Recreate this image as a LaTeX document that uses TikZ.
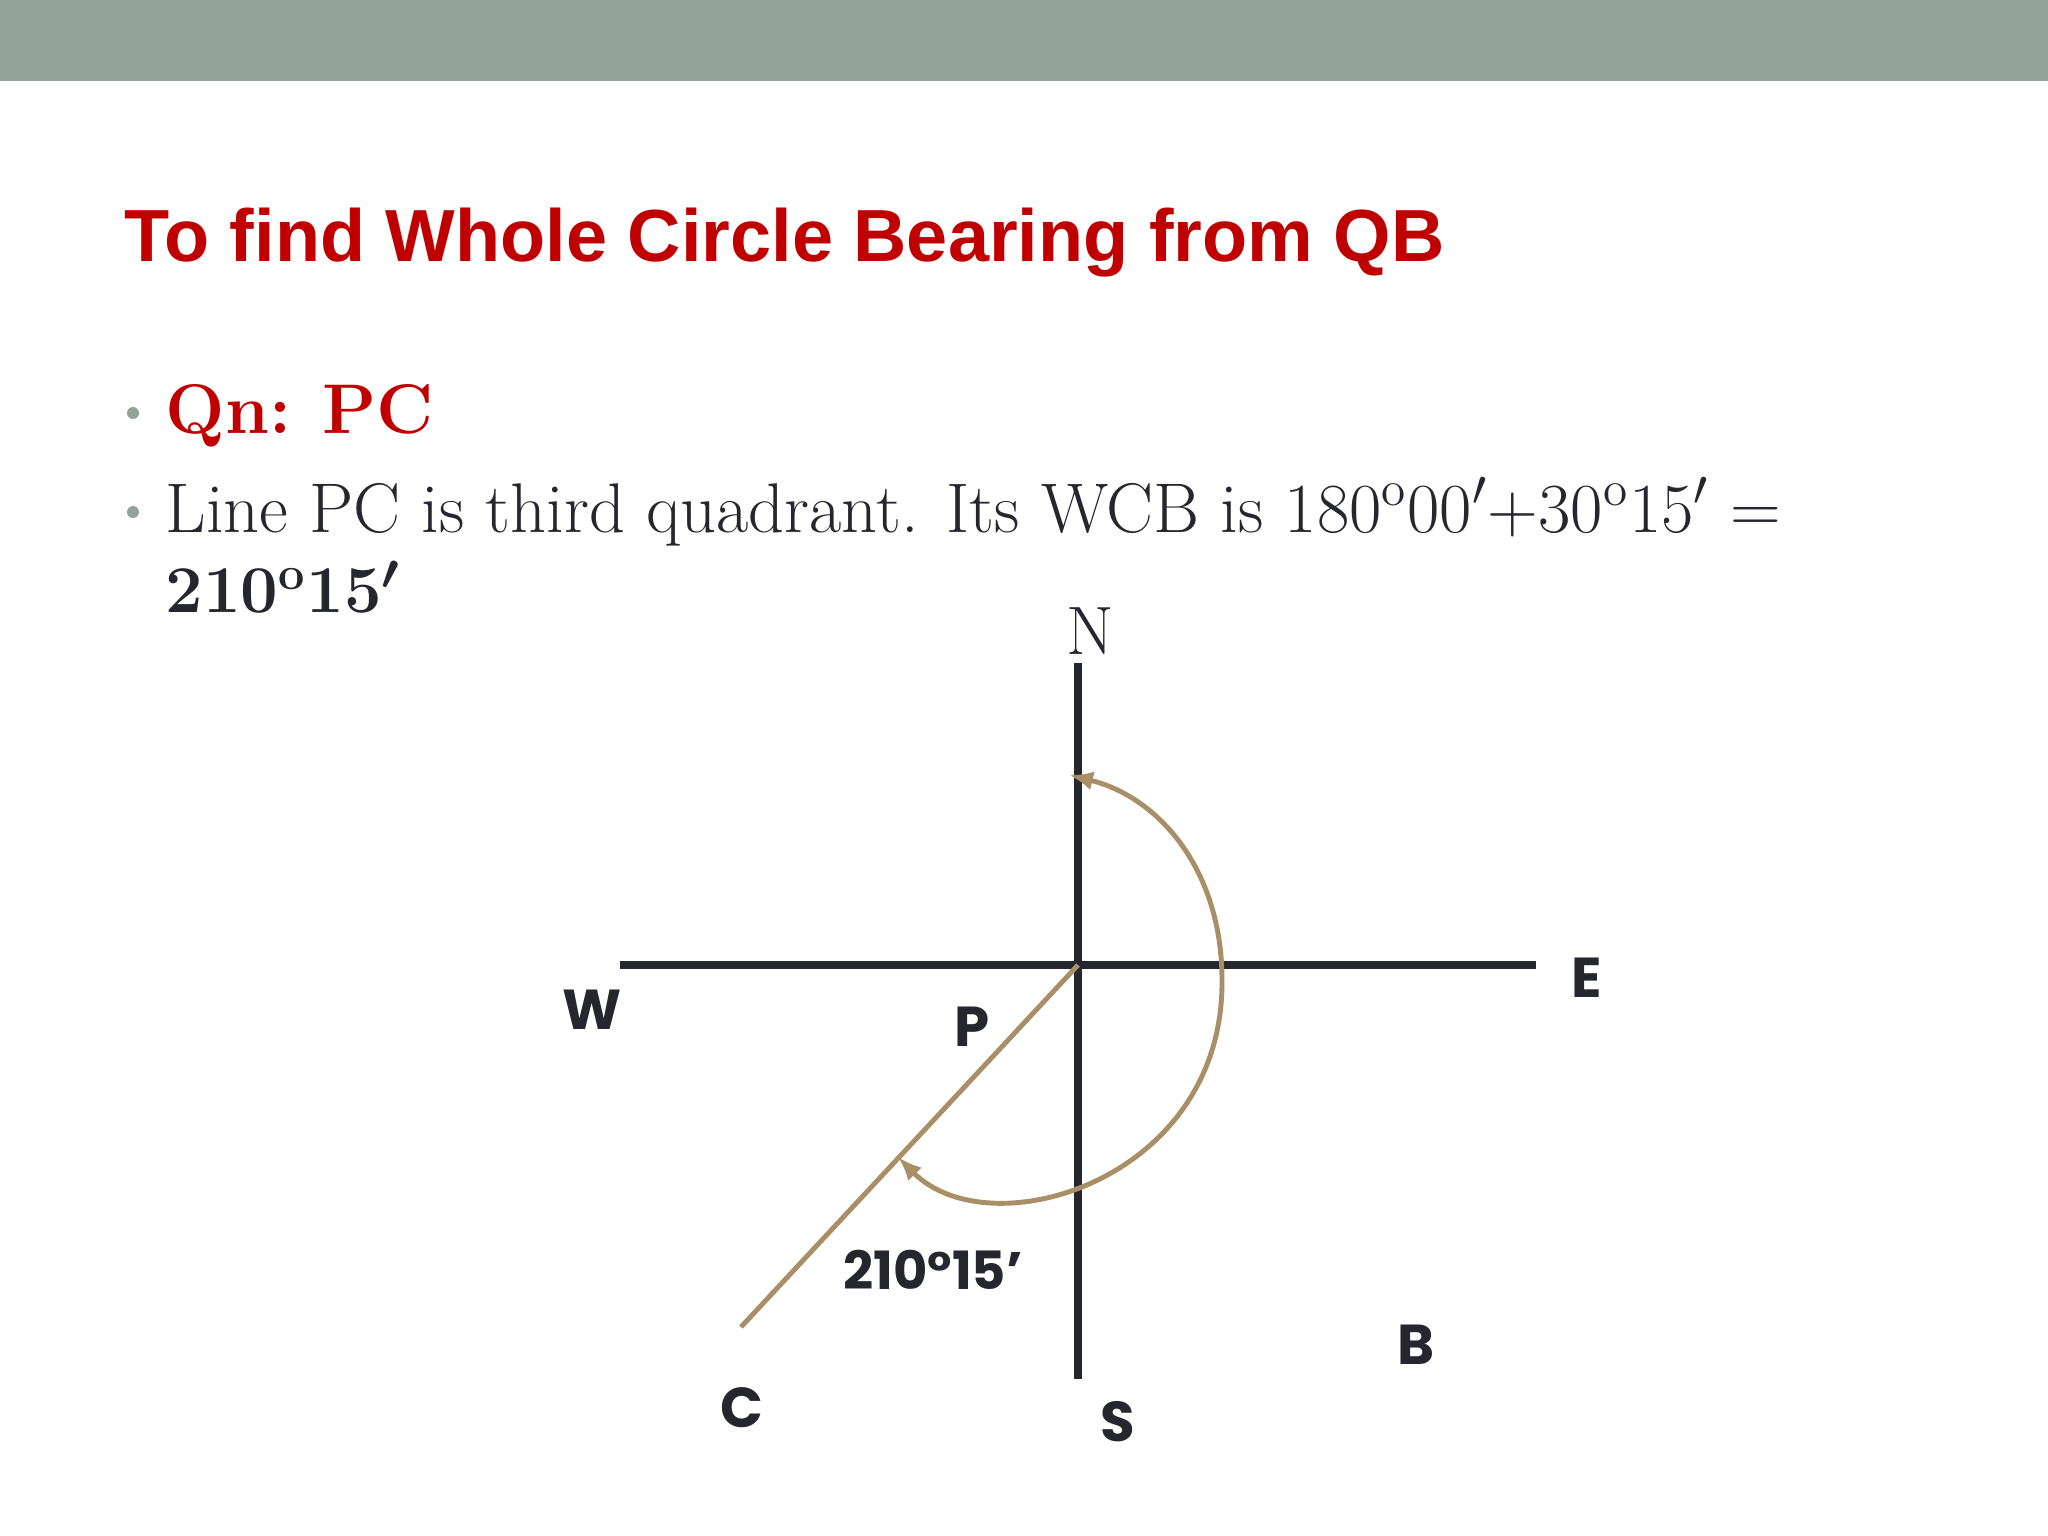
\documentclass[tikz,border=0pt]{standalone}
\usepackage{amsmath,amssymb}
\usepackage{fontspec}
\usetikzlibrary{arrows.meta}

\newfontfamily\titlefont{Liberation Sans}
\newfontfamily\lblfont{Poppins}
\definecolor{bandgray}{HTML}{93A39A}
\definecolor{slidered}{HTML}{C00000}
\definecolor{inkdark}{HTML}{26262E}
\definecolor{tanline}{HTML}{A88F68}

\begin{document}
\begin{tikzpicture}[x=0.01cm,y=-0.01cm,
  axis/.style={draw=inkdark, line width=2pt},
  bearing/.style={draw=tanline, line width=1.4pt},
  dirlbl/.style={inner sep=0pt, text=inkdark, font=\lblfont\bfseries\fontsize{16pt}{19pt}\selectfont},
  bodytxt/.style={anchor=base west, inner sep=0pt, text=inkdark, font=\fontsize{20pt}{24pt}\selectfont}]

% page and grey band on top
\useasboundingbox (0,0) rectangle (2048,1536);
\fill[bandgray] (0,0) rectangle (2048,81);

% title
\node[anchor=base west, inner sep=0pt, text=slidered, font=\titlefont\bfseries\fontsize{21pt}{25pt}\selectfont] (title) at (124,261) {To find Whole Circle Bearing from QB};

% bullet points
\fill[bandgray] (133,413) circle (0.06cm);
\fill[bandgray] (133,512) circle (0.06cm);
\node[bodytxt, text=slidered] (qn) at (165,433) {\textbf{Qn:\hspace{0.45em}PC}};
\node[bodytxt] (line) at (165,532) {Line PC is third quadrant. Its WCB is 180\textsuperscript{o}00$'$+30\textsuperscript{o}15$'$ =};
\node[bodytxt, font=\fontsize{19pt}{23pt}\selectfont] (wcb) at (165,612) {\textbf{210\textsuperscript{o}15{\boldmath$'$}}};

% compass lines
\coordinate (P) at (1078,965);
\coordinate (nEnd) at (1078,663);
\coordinate (sEnd) at (1078,1379);
\coordinate (wEnd) at (620,965);
\coordinate (eEnd) at (1536,965);
\coordinate (cEnd) at (741,1327);
\draw[axis] (nEnd) -- (sEnd);
\draw[axis] (wEnd) -- (eEnd);

% line PC and the bearing arc
\draw[bearing] (P) -- (cEnd);
\coordinate (tipN) at (1069,775);
\coordinate (rgt) at (1222,980);
\coordinate (tipC) at (898,1157);
\draw[bearing, {Latex[length=0.24cm,width=0.19cm]}-{Latex[length=0.24cm,width=0.19cm]}] (tipN) .. controls (1159,797) and (1222,870) .. (rgt) .. controls (1224,1180) and (990,1250) .. (tipC);

% labels
\node[inner sep=0pt, text=inkdark, font=\fontsize{19.5pt}{23pt}\selectfont] (N) at (1090,631) {N};
\node[dirlbl] (E) at (1587,978) {E};
\node[dirlbl] (W) at (592,1010) {W};
\node[dirlbl] (Plbl) at (972,1027) {P};
\node[dirlbl, font=\lblfont\bfseries\fontsize{15pt}{18pt}\selectfont] (angle) at (933,1270) {210°15’};
\node[dirlbl] (C) at (742,1408) {C};
\node[dirlbl] (S) at (1118,1422) {S};
\node[dirlbl] (B) at (1416,1345) {B};

\end{tikzpicture}
\end{document}
